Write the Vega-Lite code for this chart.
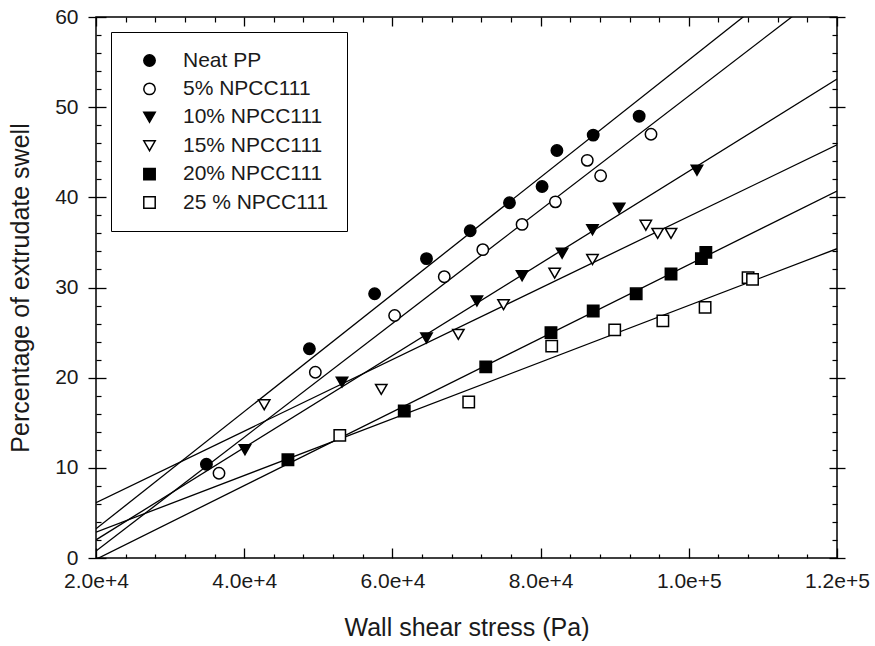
{
  "$schema": "https://vega.github.io/schema/vega-lite/v6.json",
  "width": 741,
  "height": 541,
  "autosize": {"type": "none"},
  "padding": {"left": 96, "top": 17, "right": 38, "bottom": 88},
  "background": "white",
  "config": {
    "view": {"stroke": "black", "strokeWidth": 1.5},
    "font": "Liberation Sans",
    "axis": {
      "grid": false,
      "domain": false,
      "labelFont": "Liberation Sans",
      "titleFont": "Liberation Sans",
      "labelColor": "#1a1a1a",
      "titleColor": "#1a1a1a",
      "titleFontWeight": "normal",
      "labelOverlap": false,
      "labelFlush": false
    },
    "legend": {
      "orient": "none",
      "legendX": 15,
      "legendY": 15,
      "strokeColor": "black",
      "fillColor": "white",
      "padding": 18,
      "rowPadding": 6.4,
      "symbolOffset": 10,
      "labelOffset": 23,
      "labelFontSize": 21,
      "labelFont": "Liberation Sans",
      "labelColor": "#1a1a1a",
      "labelLimit": 300,
      "symbolSize": 130,
      "symbolStrokeWidth": 1.5
    }
  },
  "datasets": {
    "swell": [
      {"series": "Neat PP", "stress": 34900, "swell": 10.4},
      {"series": "Neat PP", "stress": 48800, "swell": 23.2},
      {"series": "Neat PP", "stress": 57600, "swell": 29.3},
      {"series": "Neat PP", "stress": 64600, "swell": 33.2},
      {"series": "Neat PP", "stress": 70500, "swell": 36.3},
      {"series": "Neat PP", "stress": 75800, "swell": 39.4},
      {"series": "Neat PP", "stress": 80200, "swell": 41.2},
      {"series": "Neat PP", "stress": 82200, "swell": 45.2},
      {"series": "Neat PP", "stress": 87100, "swell": 46.9},
      {"series": "Neat PP", "stress": 93300, "swell": 49.0},
      {"series": "5% NPCC111", "stress": 36600, "swell": 9.4},
      {"series": "5% NPCC111", "stress": 49600, "swell": 20.6},
      {"series": "5% NPCC111", "stress": 60300, "swell": 26.9},
      {"series": "5% NPCC111", "stress": 67000, "swell": 31.2},
      {"series": "5% NPCC111", "stress": 72200, "swell": 34.2},
      {"series": "5% NPCC111", "stress": 77500, "swell": 37.0},
      {"series": "5% NPCC111", "stress": 82000, "swell": 39.5},
      {"series": "5% NPCC111", "stress": 86300, "swell": 44.1},
      {"series": "5% NPCC111", "stress": 88100, "swell": 42.4},
      {"series": "5% NPCC111", "stress": 94900, "swell": 47.0},
      {"series": "10% NPCC111", "stress": 40100, "swell": 12.0},
      {"series": "10% NPCC111", "stress": 53200, "swell": 19.5},
      {"series": "10% NPCC111", "stress": 64600, "swell": 24.4},
      {"series": "10% NPCC111", "stress": 71400, "swell": 28.5},
      {"series": "10% NPCC111", "stress": 77500, "swell": 31.3},
      {"series": "10% NPCC111", "stress": 82900, "swell": 33.8},
      {"series": "10% NPCC111", "stress": 87000, "swell": 36.4},
      {"series": "10% NPCC111", "stress": 90600, "swell": 38.8},
      {"series": "10% NPCC111", "stress": 101100, "swell": 43.0},
      {"series": "15% NPCC111", "stress": 42700, "swell": 17.0},
      {"series": "15% NPCC111", "stress": 58500, "swell": 18.7},
      {"series": "15% NPCC111", "stress": 68900, "swell": 24.8},
      {"series": "15% NPCC111", "stress": 75000, "swell": 28.1},
      {"series": "15% NPCC111", "stress": 81900, "swell": 31.6},
      {"series": "15% NPCC111", "stress": 87000, "swell": 33.1},
      {"series": "15% NPCC111", "stress": 94200, "swell": 36.9},
      {"series": "15% NPCC111", "stress": 95800, "swell": 36.0},
      {"series": "15% NPCC111", "stress": 97600, "swell": 36.0},
      {"series": "20% NPCC111", "stress": 45900, "swell": 10.9},
      {"series": "20% NPCC111", "stress": 61600, "swell": 16.3},
      {"series": "20% NPCC111", "stress": 72600, "swell": 21.2},
      {"series": "20% NPCC111", "stress": 81400, "swell": 25.0},
      {"series": "20% NPCC111", "stress": 87100, "swell": 27.4},
      {"series": "20% NPCC111", "stress": 92900, "swell": 29.3},
      {"series": "20% NPCC111", "stress": 97600, "swell": 31.5},
      {"series": "20% NPCC111", "stress": 101700, "swell": 33.2},
      {"series": "20% NPCC111", "stress": 102300, "swell": 33.9},
      {"series": "25 % NPCC111", "stress": 52900, "swell": 13.6},
      {"series": "25 % NPCC111", "stress": 70300, "swell": 17.3},
      {"series": "25 % NPCC111", "stress": 81500, "swell": 23.5},
      {"series": "25 % NPCC111", "stress": 90000, "swell": 25.3},
      {"series": "25 % NPCC111", "stress": 96500, "swell": 26.3},
      {"series": "25 % NPCC111", "stress": 102200, "swell": 27.8},
      {"series": "25 % NPCC111", "stress": 108000, "swell": 31.1},
      {"series": "25 % NPCC111", "stress": 108600, "swell": 30.9}
    ]
  },
  "data": {"name": "swell"},
  "resolve": {"axis": {"x": "independent", "y": "independent"}},
  "layer": [
    {
      "mark": {"type": "point", "opacity": 0},
      "encoding": {
        "x": {"field": "stress", "type": "quantitative",
          "scale": {"domain": [20000, 120000], "nice": false, "zero": false},
          "axis": {"orient": "bottom", "values": [20000, 40000, 60000, 80000, 100000, 120000], "format": ".1e", "ticks": false,
            "labelFontSize": 21, "labelPadding": 12, "title": "Wall shear stress (Pa)", "titleFontSize": 25, "titlePadding": 24}},
        "y": {"field": "swell", "type": "quantitative",
          "scale": {"domain": [0, 60], "nice": false, "zero": false},
          "axis": {"orient": "left", "values": [0, 10, 20, 30, 40, 50, 60], "ticks": false,
            "labelFontSize": 21, "labelPadding": 18, "title": "Percentage of extrudate swell", "titleFontSize": 25, "titlePadding": 21}}
      }
    },
    {
      "mark": {"type": "point", "opacity": 0},
      "encoding": {
        "x": {"field": "stress", "type": "quantitative",
          "scale": {"domain": [20000, 120000], "nice": false, "zero": false},
          "axis": {"orient": "bottom", "values": [20000, 40000, 60000, 80000, 100000, 120000], "labels": false, "title": "", "ticks": true, "tickColor": "black", "tickWidth": 1.3, "offset": -10, "tickSize": 10}},
        "y": {"field": "swell", "type": "quantitative",
          "scale": {"domain": [0, 60], "nice": false, "zero": false},
          "axis": {"orient": "left", "values": [0, 10, 20, 30, 40, 50, 60], "labels": false, "title": "", "ticks": true, "tickColor": "black", "tickWidth": 1.3, "offset": -10, "tickSize": 18}}
      }
    },
    {
      "mark": {"type": "point", "opacity": 0},
      "encoding": {
        "x": {"field": "stress", "type": "quantitative",
          "scale": {"domain": [20000, 120000], "nice": false, "zero": false},
          "axis": {"orient": "bottom", "values": [24000, 28000, 32000, 36000, 44000, 48000, 52000, 56000, 64000, 68000, 72000, 76000, 84000, 88000, 92000, 96000, 104000, 108000, 112000, 116000], "labels": false, "title": "", "ticks": true, "tickColor": "black", "tickWidth": 1.2, "offset": -4, "tickSize": 4}},
        "y": {"field": "swell", "type": "quantitative",
          "scale": {"domain": [0, 60], "nice": false, "zero": false},
          "axis": {"orient": "left", "values": [2, 4, 6, 8, 12, 14, 16, 18, 22, 24, 26, 28, 32, 34, 36, 38, 42, 44, 46, 48, 52, 54, 56, 58], "labels": false, "title": "", "ticks": true, "tickColor": "black", "tickWidth": 1.2, "offset": -5, "tickSize": 5}}
      }
    },
    {
      "mark": {"type": "point", "opacity": 0},
      "encoding": {
        "x": {"field": "stress", "type": "quantitative",
          "scale": {"domain": [20000, 120000], "nice": false, "zero": false},
          "axis": {"orient": "top", "values": [20000, 40000, 60000, 80000, 100000, 120000], "labels": false, "title": "", "ticks": true, "tickColor": "black", "tickWidth": 1.3, "offset": -9, "tickSize": 9}},
        "y": {"field": "swell", "type": "quantitative",
          "scale": {"domain": [0, 60], "nice": false, "zero": false},
          "axis": {"orient": "right", "values": [0, 10, 20, 30, 40, 50, 60], "labels": false, "title": "", "ticks": true, "tickColor": "black", "tickWidth": 1.3, "offset": -8, "tickSize": 16}}
      }
    },
    {
      "mark": {"type": "point", "opacity": 0},
      "encoding": {
        "x": {"field": "stress", "type": "quantitative",
          "scale": {"domain": [20000, 120000], "nice": false, "zero": false},
          "axis": {"orient": "top", "values": [24000, 28000, 32000, 36000, 44000, 48000, 52000, 56000, 64000, 68000, 72000, 76000, 84000, 88000, 92000, 96000, 104000, 108000, 112000, 116000], "labels": false, "title": "", "ticks": true, "tickColor": "black", "tickWidth": 1.2, "offset": -5, "tickSize": 5}},
        "y": {"field": "swell", "type": "quantitative",
          "scale": {"domain": [0, 60], "nice": false, "zero": false},
          "axis": {"orient": "right", "values": [2, 4, 6, 8, 12, 14, 16, 18, 22, 24, 26, 28, 32, 34, 36, 38, 42, 44, 46, 48, 52, 54, 56, 58], "labels": false, "title": "", "ticks": true, "tickColor": "black", "tickWidth": 1.2, "offset": -5, "tickSize": 5}}
      }
    },
    {
      "transform": [{"regression": "swell", "on": "stress", "groupby": ["series"], "extent": [20000, 120000]}],
      "mark": {"type": "line", "color": "black", "strokeWidth": 1.3, "clip": true},
      "encoding": {
        "x": {"field": "stress", "type": "quantitative", "axis": null,
          "scale": {"domain": [20000, 120000], "nice": false, "zero": false}},
        "y": {"field": "swell", "type": "quantitative", "axis": null,
          "scale": {"domain": [0, 60], "nice": false, "zero": false}},
        "detail": {"field": "series"}
      }
    },
    {
      "mark": {"type": "point", "filled": true, "strokeWidth": 1.5, "size": 130, "opacity": 1},
      "encoding": {
        "x": {"field": "stress", "type": "quantitative", "axis": null,
          "scale": {"domain": [20000, 120000], "nice": false, "zero": false}},
        "y": {"field": "swell", "type": "quantitative", "axis": null,
          "scale": {"domain": [0, 60], "nice": false, "zero": false}},
        "shape": {"field": "series", "type": "nominal",
          "scale": {"domain": ["Neat PP", "5% NPCC111", "10% NPCC111", "15% NPCC111", "20% NPCC111", "25 % NPCC111"],
            "range": ["circle", "circle", "triangle-down", "triangle-down", "square", "square"]},
          "legend": {"title": null}},
        "fill": {"field": "series", "type": "nominal",
          "scale": {"domain": ["Neat PP", "5% NPCC111", "10% NPCC111", "15% NPCC111", "20% NPCC111", "25 % NPCC111"],
            "range": ["black", "white", "black", "white", "black", "white"]},
          "legend": {"title": null}},
        "stroke": {"field": "series", "type": "nominal",
          "scale": {"domain": ["Neat PP", "5% NPCC111", "10% NPCC111", "15% NPCC111", "20% NPCC111", "25 % NPCC111"],
            "range": ["black", "black", "black", "black", "black", "black"]},
          "legend": {"title": null}}
      }
    }
  ]
}
